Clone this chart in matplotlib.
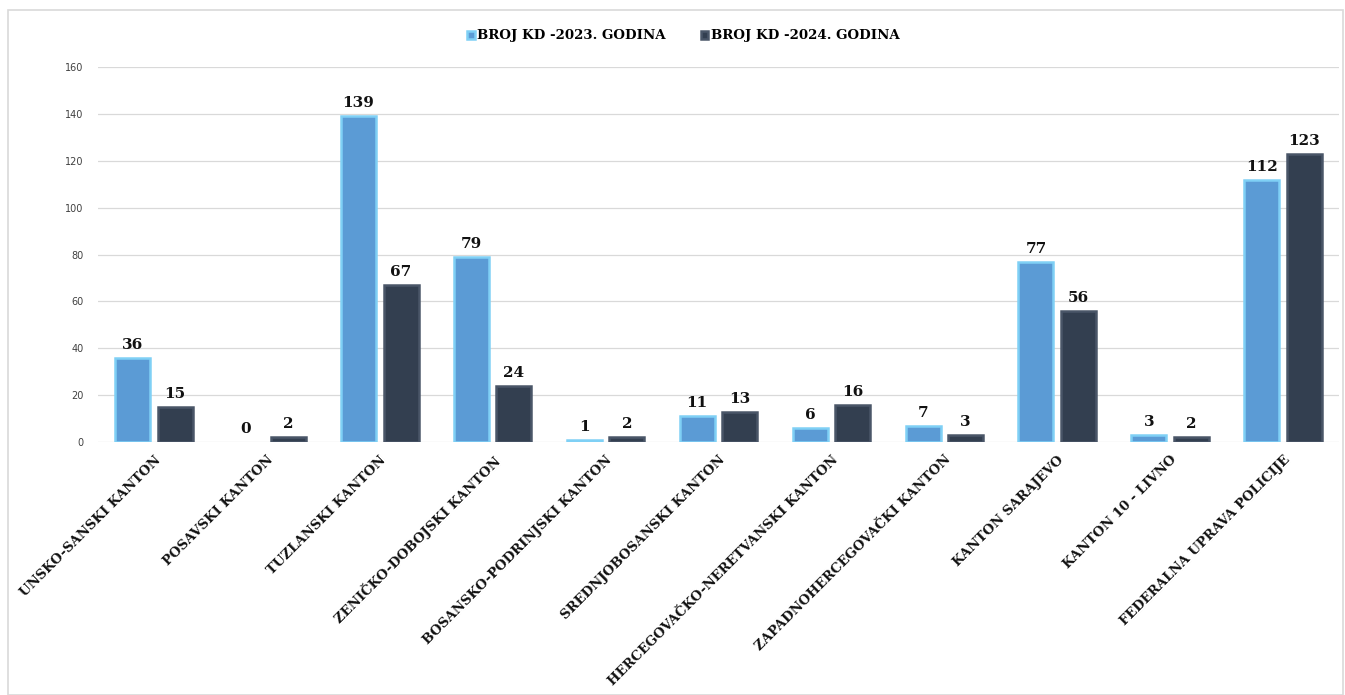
import matplotlib
matplotlib.use("Agg")
import matplotlib.pyplot as plt
from matplotlib.patches import Rectangle
import numpy as np

KANTONI = ["UNSKO-SANSKI KANTON", "POSAVSKI KANTON", "TUZLANSKI KANTON",
           "ZENIČKO-DOBOJSKI KANTON", "BOSANSKO-PODRINJSKI KANTON",
           "SREDNJOBOSANSKI KANTON", "HERCEGOVAČKO-NERETVANSKI KANTON",
           "ZAPADNOHERCEGOVAČKI KANTON", "KANTON SARAJEVO", "KANTON 10 - LIVNO",
           "FEDERALNA UPRAVA POLICIJE"]
KD_2023 = [36, 0, 139, 79, 1, 11, 6, 7, 77, 3, 112]
KD_2024 = [15, 2, 67, 24, 2, 13, 16, 3, 56, 2, 123]
Y_TICKS = [0, 20, 40, 60, 80, 100, 120, 140, 160]

LABEL_2023 = "BROJ KD -2023. GODINA"
LABEL_2024 = "BROJ KD -2024. GODINA"

SERIF = ["DejaVu Serif"]

fig = plt.figure(figsize=(13.45, 6.95), dpi=100)
# thin frame round the chart
fig.patches.append(Rectangle((8 / 1345, 0), 1335 / 1345, 685 / 695,
                             transform=fig.transFigure, fill=False,
                             edgecolor="#d9d9d9", linewidth=1.2))

ax = fig.add_axes([0.0725, 0.364, 0.9234, 0.5396])

x = np.arange(len(KANTONI))
w = 0.31
off = 0.188

# no outline on empty bars
lw1 = [1.8 if v > 0 else 0 for v in KD_2023]
lw2 = [1.8 if v > 0 else 0 for v in KD_2024]
b1 = ax.bar(x - off, KD_2023, width=w, color="#5B9BD5", edgecolor="#7fd0f5",
            linewidth=lw1, label=LABEL_2023, zorder=3)
b2 = ax.bar(x + off, KD_2024, width=w, color="#333F50", edgecolor="#4a5668",
            linewidth=lw2, label=LABEL_2024, zorder=3)

for bars, vals in ((b1, KD_2023), (b2, KD_2024)):
    for rect, v in zip(bars, vals):
        ax.text(rect.get_x() + rect.get_width() / 2, v + 2.5, str(v),
                ha="center", va="bottom", fontsize=11, fontweight="bold",
                family=SERIF, color="#111111")

ax.set_xlim(-0.5, len(KANTONI) - 0.5)
ax.set_ylim(0, 160)
ax.set_yticks(Y_TICKS)
ax.tick_params(axis="y", length=0, labelsize=7, labelcolor="#404040", pad=10)
ax.tick_params(axis="x", length=0, pad=8)
ax.grid(axis="y", color="#d9d9d9", linewidth=0.9, zorder=0)
for s in ax.spines.values():
    s.set_visible(False)

ax.set_xticks(x)
ax.set_xticklabels(KANTONI, rotation=45, ha="right", rotation_mode="anchor",
                   fontsize=9.5, fontweight="bold", family=SERIF, color="#111111")

fig.legend(loc="upper center", bbox_to_anchor=(0.508, 0.975), ncol=2,
           frameon=False, handlelength=0.55, handleheight=0.55,
           handletextpad=0.2, columnspacing=2.6,
           prop={"family": SERIF, "weight": "bold", "size": 9.6})

fig.savefig("out.png", dpi=100, facecolor="white")
